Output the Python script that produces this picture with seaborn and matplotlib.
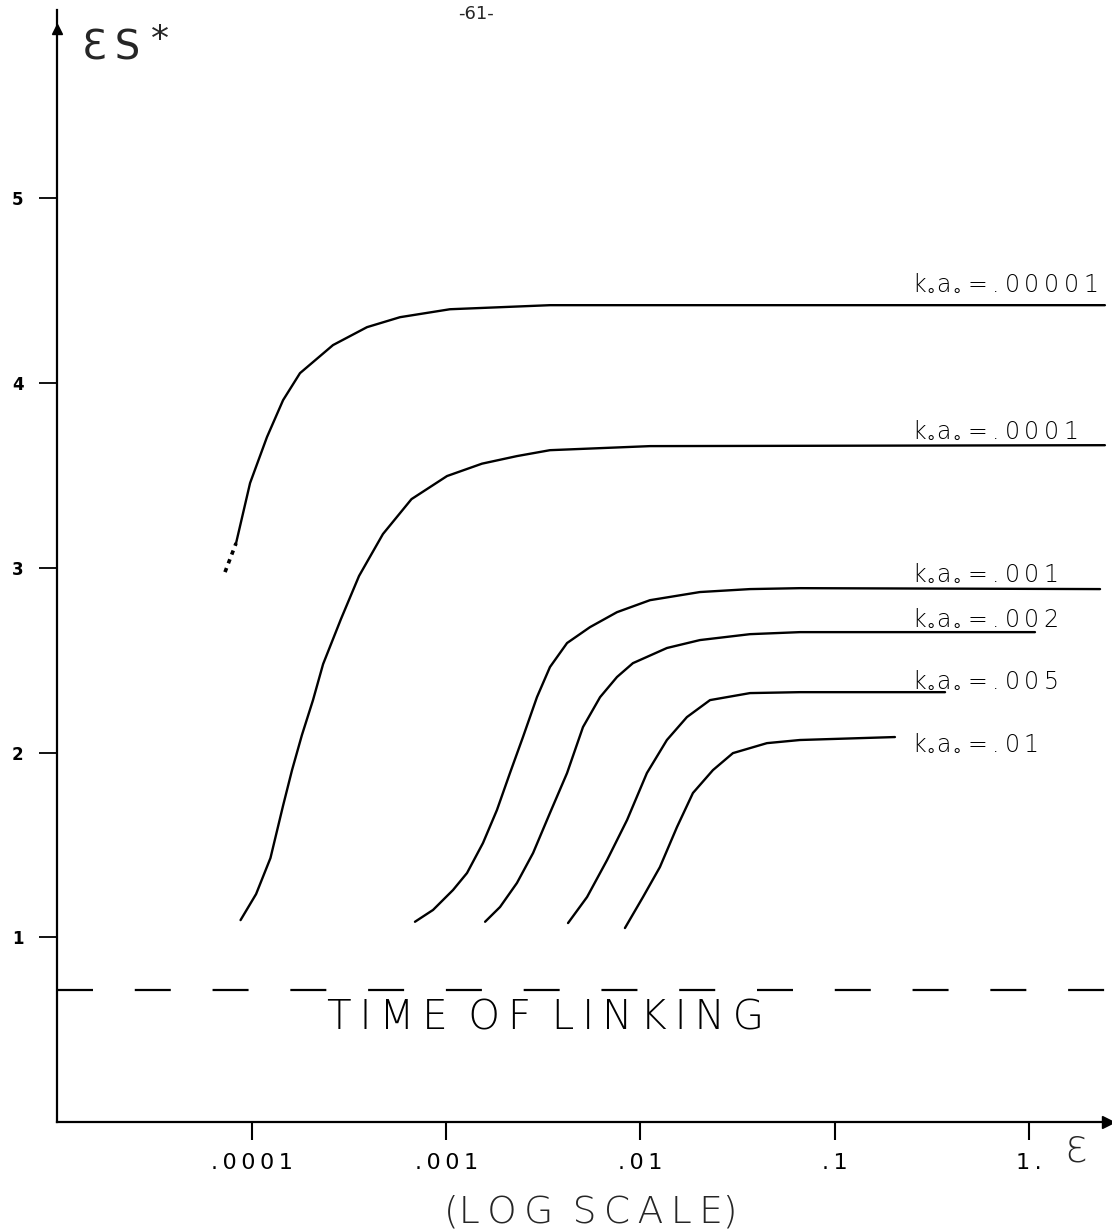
import numpy as np
import pandas as pd
import matplotlib
matplotlib.use("Agg")
import matplotlib.pyplot as plt
from matplotlib.ticker import NullLocator
import seaborn as sns

# ---- data (x as log10(epsilon), y as epsilon*S*) ----
c1_dot_loge = [-4.139, -4.082]
c1_dot_val = [2.977, 3.134]
c1_loge = [-4.082, -4.010, -3.923, -3.840, -3.753, -3.583, -3.408, -3.238, -2.981, -2.723, -2.466, 0.391]
c1_val = [3.134, 3.459, 3.708, 3.908, 4.054, 4.206, 4.303, 4.357, 4.400, 4.411, 4.422, 4.422]

c2_loge = [-4.059, -3.979, -3.905, -3.840, -3.794, -3.743, -3.686, -3.634, -3.542, -3.449,
           -3.326, -3.179, -2.996, -2.816, -2.636, -2.466, -1.951, 0.391]
c2_val = [1.093, 1.234, 1.429, 1.713, 1.905, 2.095, 2.284, 2.479, 2.723, 2.956,
          3.183, 3.372, 3.497, 3.564, 3.605, 3.637, 3.659, 3.664]

c3_loge = [-3.161, -3.068, -2.965, -2.893, -2.811, -2.739, -2.672, -2.605, -2.533, -2.466,
           -2.378, -2.260, -2.121, -1.951, -1.694, -1.436, -1.179, 0.366]
c3_val = [1.084, 1.148, 1.256, 1.348, 1.510, 1.689, 1.889, 2.084, 2.300, 2.463,
          2.593, 2.679, 2.760, 2.825, 2.869, 2.885, 2.890, 2.885]

c4_loge = [-2.800, -2.723, -2.636, -2.553, -2.466, -2.378, -2.296, -2.208, -2.121, -2.039,
           -1.864, -1.694, -1.436, -1.179, 0.031]
c4_val = [1.084, 1.164, 1.294, 1.456, 1.673, 1.889, 2.138, 2.300, 2.409, 2.484,
          2.566, 2.609, 2.641, 2.652, 2.652]

c5_loge = [-2.373, -2.275, -2.172, -2.069, -1.967, -1.864, -1.761, -1.642, -1.436, -1.179, -0.432]
c5_val = [1.077, 1.218, 1.418, 1.635, 1.889, 2.068, 2.192, 2.284, 2.322, 2.327, 2.327]

c6_loge = [-2.080, -1.987, -1.900, -1.812, -1.730, -1.627, -1.524, -1.349, -1.179, -0.690]
c6_val = [1.050, 1.218, 1.380, 1.597, 1.781, 1.905, 1.997, 2.051, 2.068, 2.084]

label_values = [".00001", ".0001", ".001", ".002", ".005", ".01"]
label_val = [4.503, 3.708, 2.934, 2.690, 2.355, 2.014]

linking_val = 0.714

xtick_vals = [1e-4, 1e-3, 1e-2, 1e-1, 1.0]
xtick_labels = [".0001", ".001", ".01", ".1", "1."]
ytick_vals = [1, 2, 3, 4, 5]
ytick_labels = ["1", "2", "3", "4", "5"]

TH = "\u2009"  # thin space used to mimic the wide hand lettering


def spaced(s, sep=TH):
    return sep.join(s)


# ---- figure ----
sns.set_style("white")
plt.rcParams["font.family"] = ["DejaVu Sans"]
W, H = 1112, 1232
fig = plt.figure(figsize=(W / 100, H / 100), dpi=100)
fig.patch.set_facecolor("white")
ax = fig.add_axes([57 / W, 110 / H, 1051 / W, 1112 / H])
ax.set_facecolor("white")

curves = [(c1_loge, c1_val), (c2_loge, c2_val), (c3_loge, c3_val),
          (c4_loge, c4_val), (c5_loge, c5_val), (c6_loge, c6_val)]
for lx, v in curves:
    df = pd.DataFrame({"eps": np.power(10.0, lx), "val": v})
    sns.lineplot(data=df, x="eps", y="val", ax=ax, color="black", lw=1.7,
                 sort=False, estimator=None)
dot_df = pd.DataFrame({"eps": np.power(10.0, c1_dot_loge), "val": c1_dot_val})
sns.lineplot(data=dot_df, x="eps", y="val", ax=ax, color="black", lw=2.6,
             sort=False, estimator=None, linestyle=(0, (1.2, 1.4)))
for ln in ax.lines:
    ln.set_solid_joinstyle("round")
    ln.set_solid_capstyle("round")

ax.set_xscale("log")
ax.set_xlim(10 ** -5.004, 10 ** 0.407)
ax.set_ylim(0, 6.02)

# time of linking dashed line
ax.axhline(linking_val, color="black", lw=1.6, dashes=(16.2, 18.8))
ax.text(10 ** -2.49, 0.563, (" " + TH).join(spaced(w) for w in ["TIME", "OF", "LINKING"]),
        ha="center", va="center", fontsize=29, color="black", fontweight="light")

# curve labels
prefix = r"k$_{\circ}$a$_{\circ}$"
lab_x = 10 ** -0.60
for v, yv in zip(label_values, label_val):
    txt = prefix + TH + "=" + TH + spaced(v)
    ax.text(lab_x, yv, txt, ha="left", va="baseline", fontsize=17, color="black",
            fontweight="light")

# axes styling
for s in ["top", "right"]:
    ax.spines[s].set_visible(False)
for s in ["left", "bottom"]:
    ax.spines[s].set_linewidth(1.6)
    ax.spines[s].set_color("black")

ax.set_xticks(xtick_vals)
ax.set_xticklabels([spaced(t) for t in xtick_labels])
ax.xaxis.set_minor_locator(NullLocator())
ax.yaxis.set_minor_locator(NullLocator())
ax.set_yticks(ytick_vals)
ax.set_yticklabels(ytick_labels, fontweight="bold")
ax.tick_params(axis="x", which="major", bottom=True, direction="out", length=13,
               width=1.5, pad=9, labelsize=16, colors="black")
ax.tick_params(axis="y", which="major", left=True, direction="out", length=13,
               width=1.3, pad=11, labelsize=12, colors="black")
ax.set_xlabel("")
ax.set_ylabel("")
ax.grid(False)

# arrow heads
ax.plot([1.0], [0.0], marker=">", color="black", ms=9, transform=ax.transAxes,
        clip_on=False)
ax.plot([0.0], [0.983], marker="^", color="black", ms=7, transform=ax.transAxes,
        clip_on=False)

# free texts
fig.text(82 / W, 1 - 48 / H, "Ɛ" + TH + "S", ha="left", va="center", fontsize=29)
fig.text(160 / W, 1 - 40 / H, "*", ha="center", va="center", fontsize=26)
fig.text(476 / W, 1 - 14 / H, "-61-", ha="center", va="center", fontsize=13)
fig.text(1076 / W, 1 - 1151 / H, "Ɛ", ha="center", va="center", fontsize=26,
         fontweight="light")
fig.text(591 / W, 1 - 1212 / H, "(" + (" " + TH).join(spaced(w) for w in ["LOG", "SCALE"]) + ")",
         ha="center", va="center", fontsize=27, fontweight="light")

fig.savefig("out.png", dpi=100, facecolor="white")
